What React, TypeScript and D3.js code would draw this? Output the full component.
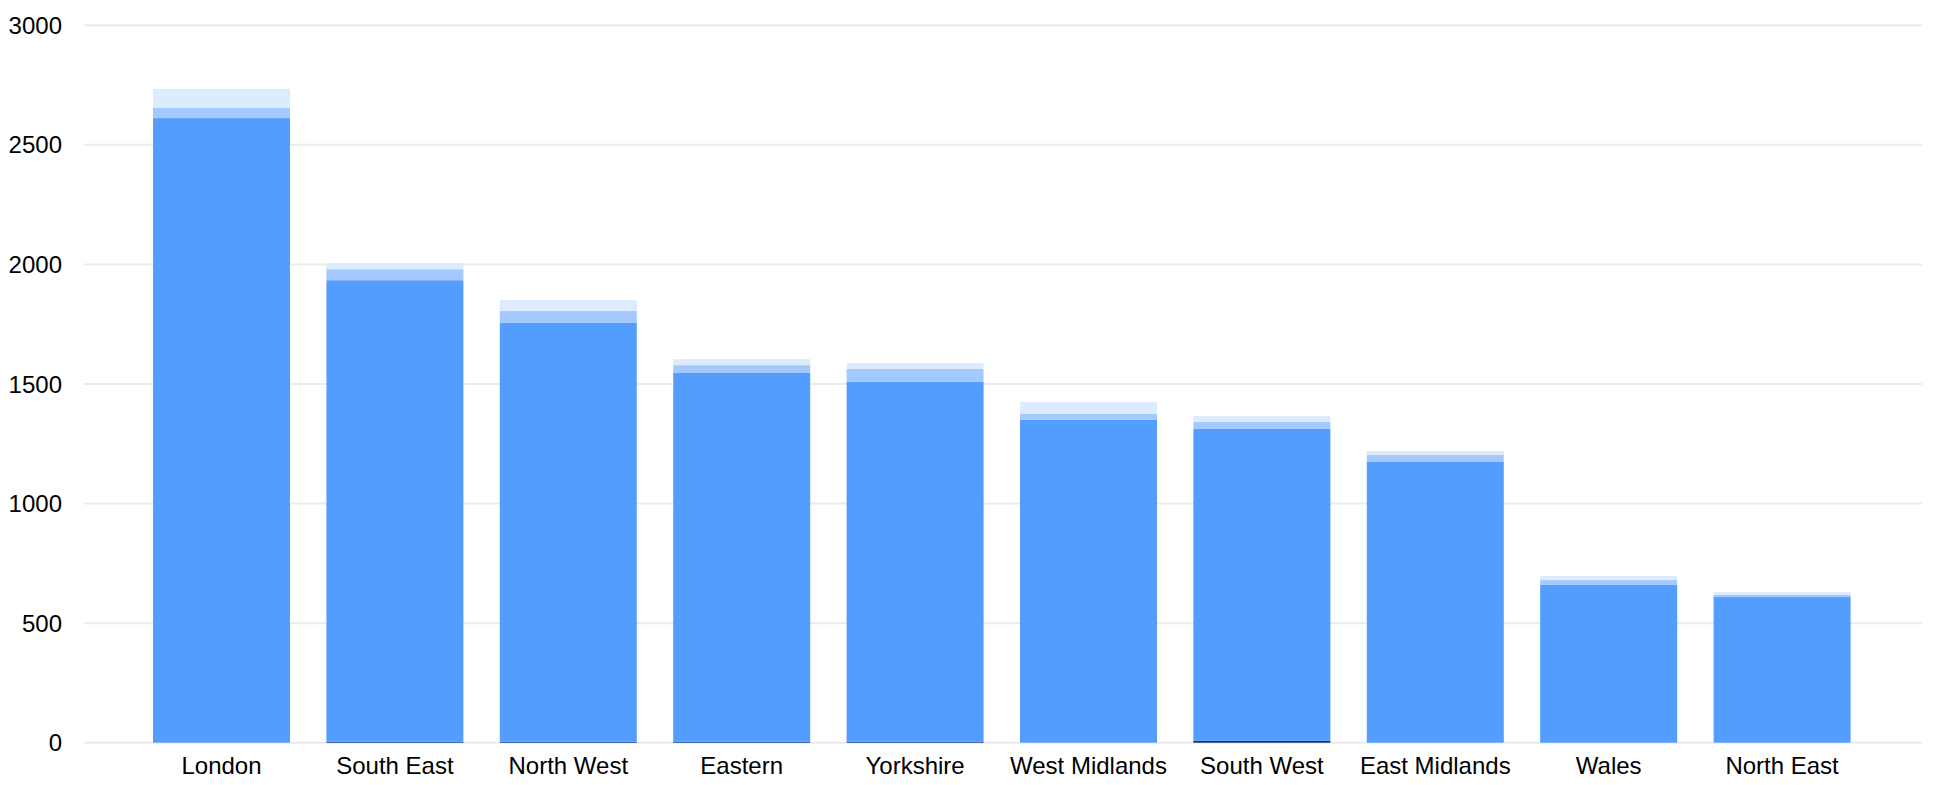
import React from "react";
import * as d3 from "d3";

const regions = ["London", "South East", "North West", "Eastern", "Yorkshire", "West Midlands", "South West", "East Midlands", "Wales", "North East"];
const seriesDark = [0, 4, 4, 4, 4, 0, 8, 0, 0, 0];
const seriesMain = [2612, 1930, 1751, 1542, 1505, 1350, 1304, 1174, 660, 609];
const seriesLight = [42, 46, 50, 33, 54, 25, 29, 29, 20, 9];
const seriesLightest = [80, 25, 46, 25, 25, 50, 25, 17, 17, 12];
const yTicks = [0, 500, 1000, 1500, 2000, 2500, 3000];

const seriesKeys = ["dark", "main", "light", "lightest"];
const seriesColors: Record<string, string> = {
  dark: "#08337c",
  main: "#539dfe",
  light: "#a3c9fe",
  lightest: "#dcebfe",
};

const W = 1934;
const H = 785;

export default function App() {
  const rows = regions.map((r, i) => ({
    region: r,
    dark: seriesDark[i],
    main: seriesMain[i],
    light: seriesLight[i],
    lightest: seriesLightest[i],
  }));
  const stacked = d3.stack<any>().keys(seriesKeys)(rows);

  const y = d3.scaleLinear().domain([0, 3000]).range([742.7, 25.3]);
  const step = 173.4;
  const x = d3
    .scaleBand<string>()
    .domain(regions)
    .range([153 - 0.105 * step, 153 - 0.105 * step + step * 10])
    .paddingInner(0.21)
    .paddingOuter(0.105);

  const gridX0 = 84;
  const gridX1 = 1922;
  const font = "Arial, 'Liberation Sans', Helvetica, sans-serif";

  return (
    <div style={{ position: "absolute", left: 0, top: 0 }}>
      <svg width={W} height={H} style={{ display: "block", background: "#fff" }}>
        {yTicks.map((t) => (
          <g key={t}>
            <line x1={gridX0} x2={gridX1} y1={y(t)} y2={y(t)} stroke="#ebebeb" strokeWidth={2} />
            <text
              x={62}
              y={y(t)}
              textAnchor="end"
              dominantBaseline="central"
              fontFamily={font}
              fontSize={24}
              fill="#000"
            >
              {t}
            </text>
          </g>
        ))}
        {stacked.map((s) => (
          <g key={s.key} fill={seriesColors[s.key]}>
            {s.map((d, i) => {
              const h = y(d[0]) - y(d[1]);
              if (h <= 0) return null;
              return (
                <rect
                  key={i}
                  x={x(regions[i])}
                  y={y(d[1])}
                  width={x.bandwidth()}
                  height={h}
                />
              );
            })}
          </g>
        ))}
        {regions.map((r) => (
          <text
            key={r}
            x={(x(r) as number) + x.bandwidth() / 2}
            y={774}
            textAnchor="middle"
            fontFamily={font}
            fontSize={24}
            fill="#000"
          >
            {r}
          </text>
        ))}
      </svg>
    </div>
  );
}
